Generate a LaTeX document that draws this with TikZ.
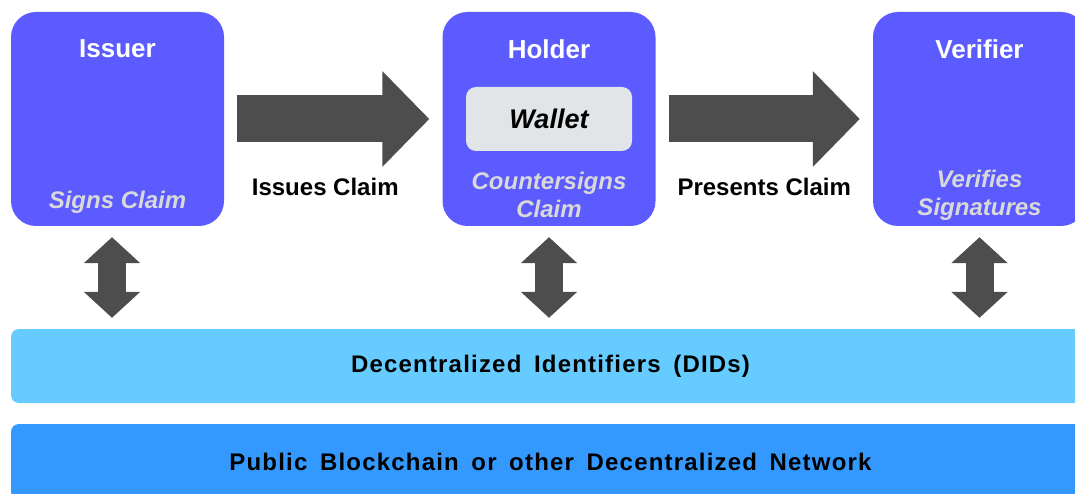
\documentclass[tikz,border=0pt]{standalone}
\usepackage{fontspec}
\setmainfont{Liberation Sans}
\newfontfamily\layerfont[LetterSpace=5,WordSpace=1.6]{Liberation Sans}
\usetikzlibrary{positioning,arrows.meta}

\definecolor{rolefill}{HTML}{5B5BFF}
\definecolor{subgray}{HTML}{D9D9D9}
\definecolor{walletfill}{HTML}{E2E5E7}
\definecolor{arrowgray}{HTML}{4D4D4D}
\definecolor{didfill}{HTML}{66CCFF}
\definecolor{chainfill}{HTML}{3399FF}

\tikzset{
  role/.style={fill=rolefill, rounded corners=25pt, minimum width=213pt, minimum height=214pt},
  roletitle/.style={text=white, font=\fontsize{26}{30}\selectfont\bfseries},
  rolenote/.style={text=subgray, align=center, font=\fontsize{24}{28}\selectfont\bfseries\itshape},
  wallet/.style={fill=walletfill, rounded corners=10pt, minimum width=166pt, minimum height=64pt,
    font=\fontsize{27}{30}\selectfont\bfseries\itshape},
  flowarrow/.style={draw=arrowgray, line width=47pt, shorten <=13pt, shorten >=13pt,
    -{Triangle[length=47pt, width=93pt]}},
  flowlabel/.style={font=\fontsize{24}{28}\selectfont\bfseries},
  linkarrow/.style={draw=arrowgray, line width=28pt, shorten <=11pt, shorten >=11pt,
    {Triangle[length=26pt, width=55pt]}-{Triangle[length=26pt, width=55pt]}},
  layer/.style={rounded corners=8pt, minimum width=1079pt,
    font=\layerfont\fontsize{24}{28}\selectfont\bfseries}
}

\begin{document}
\begin{tikzpicture}[x=1pt,y=-1pt]
  \useasboundingbox (0,0) rectangle (1075,494);
  \clip (0,0) rectangle (1075,494);

  % roles
  \node[role] (issuer) at (117.5,119) {};
  \node[role] (holder) at (549,119) {};
  \node[role] (verifier) at (979.5,119) {};

  \node[roletitle] (issuertitle) at ([yshift=-37pt]issuer.north) {Issuer};
  \node[roletitle] (holdertitle) at ([yshift=-37pt]holder.north) {Holder};
  \node[roletitle] (verifiertitle) at ([yshift=-37pt]verifier.north) {Verifier};

  \node[rolenote] (issuernote) at ([yshift=24pt]issuer.south) {Signs Claim};
  \node[rolenote] (holdernote) at ([yshift=31pt]holder.south) {Countersigns\\Claim};
  \node[rolenote] (verifiernote) at ([yshift=31pt]verifier.south) {Verifies\\Signatures};

  \node[wallet] (wallet) at (holder) {Wallet};

  % layers
  \node[layer, fill=didfill, minimum height=74pt] (dids) at (550.5,366) {Decentralized Identifiers (DIDs)};
  \node[layer, fill=chainfill, minimum height=76pt] (chain) at (550.5,462) {Public Blockchain or other Decentralized Network};

  % flow
  \draw[flowarrow] (issuer) -- (holder)
    node[flowlabel, midway, yshift=-68pt, xshift=-8pt] (issues) {Issues Claim};
  \draw[flowarrow] (holder) -- (verifier)
    node[flowlabel, midway, yshift=-68pt] (presents) {Presents Claim};

  % links to the DID layer
  \coordinate (issuerfoot) at ([xshift=-5.5pt]issuer.south);
  \draw[linkarrow] (issuerfoot) -- (issuerfoot |- dids.north);
  \draw[linkarrow] (holder.south) -- (holder.south |- dids.north);
  \draw[linkarrow] (verifier.south) -- (verifier.south |- dids.north);
\end{tikzpicture}
\end{document}
